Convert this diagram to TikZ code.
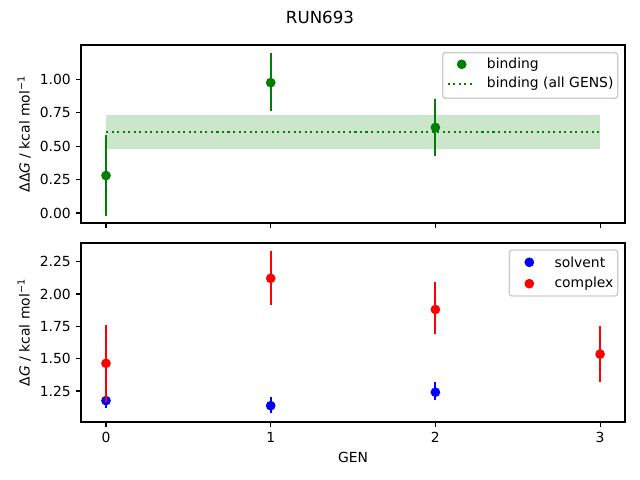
\documentclass[tikz,border=0pt]{standalone}
\usepackage{fontspec}
\setmainfont{DejaVu Sans}
\definecolor{mplgreen}{RGB}{0,128,0}
\definecolor{mplblue}{RGB}{0,0,255}
\definecolor{mplred}{RGB}{255,0,0}
\definecolor{legendgray}{RGB}{204,204,204}
\begin{document}
\begin{tikzpicture}[x=0.72bp,y=0.72bp,font=\fontsize{10bp}{12bp}\selectfont,
    frame/.style={line width=0.8bp},
    tick/.style={line width=0.8bp},
    errbar/.style={line width=1.5bp},
    dot/.style={circle,fill=#1,inner sep=0pt,minimum size=7bp},
    ticklabel/.style={inner sep=0pt},
    legendbox/.style={draw=legendgray,fill=white,fill opacity=0.8,rounded corners=2bp,line width=1bp}]
    \useasboundingbox (0,0) rectangle (640,480);
    % title
    \node (title) at (320,463) {\fontsize{12bp}{14bp}\selectfont RUN693};
    % upper axes: binding
    \fill[mplgreen,opacity=0.2] (106,331.2) rectangle (600.1,364.6);
    \draw[mplgreen,line width=1.5bp,dash pattern=on 1.5bp off 2.475bp] (106,348.3) -- (600.1,348.3);
    \begin{scope}[shift={(106,267)},x=118.58bp,y=96.26bp]
        \draw[mplgreen,errbar] (0,-0.02) -- (0,0.58);
        \draw[mplgreen,errbar] (1,0.765) -- (1,1.195);
        \draw[mplgreen,errbar] (2,0.43) -- (2,0.85);
        \node[dot=mplgreen] (bind0) at (0,0.28) {};
        \node[dot=mplgreen] (bind1) at (1,0.975) {};
        \node[dot=mplgreen] (bind2) at (2,0.64) {};
    \end{scope}
    \draw[frame] (81,257) rectangle (625,435);
    \foreach \i in {0,1,2,3}
        \draw[tick] ({106+164.7*\i},257) -- ++(0,-4.86);
    \foreach \v [count=\k] in {0.00,0.25,0.50,0.75,1.00}
        \draw[tick] (81,{267+133.7*\v}) -- ++(-4.86,0)
            node[ticklabel,anchor=east,xshift=-3.5bp] (topy\k) {\v};
    \node[rotate=90] (toplabel) at (24.3,346) {ΔΔ\textit{G} / kcal mol\textsuperscript{−1}};
    % upper legend
    \draw[legendbox] (442.7,381.7) rectangle (617.7,427.3);
    \node[dot=mplgreen] (legbind) at (461.7,415.7) {};
    \node[anchor=west,inner sep=0pt] (legbindtext) at (486.7,415.7) {binding};
    \draw[mplgreen,line width=1.5bp,dash pattern=on 1.5bp off 2.475bp] (447.7,396.3) -- (474,396.3);
    \node[anchor=west,inner sep=0pt] (legalltext) at (486.7,396.3) {binding (all GENS)};
    % lower axes: solvent and complex
    \begin{scope}[shift={(106,-72.6)},x=118.58bp,y=93.1bp]
        \draw[mplblue,errbar] (0,1.121) -- (0,1.232);
        \draw[mplblue,errbar] (1,1.077) -- (1,1.206);
        \draw[mplblue,errbar] (2,1.18) -- (2,1.317);
        \node[dot=mplblue] (solv0) at (0,1.175) {};
        \node[dot=mplblue] (solv1) at (1,1.136) {};
        \node[dot=mplblue] (solv2) at (2,1.24) {};
        \draw[mplred,errbar] (0,1.167) -- (0,1.76);
        \draw[mplred,errbar] (1,1.915) -- (1,2.333);
        \draw[mplred,errbar] (2,1.69) -- (2,2.09);
        \draw[mplred,errbar] (3,1.32) -- (3,1.756);
        \node[dot=mplred] (comp0) at (0,1.464) {};
        \node[dot=mplred] (comp1) at (1,2.121) {};
        \node[dot=mplred] (comp2) at (2,1.88) {};
        \node[dot=mplred] (comp3) at (3,1.535) {};
    \end{scope}
    \draw[frame] (81,58) rectangle (625,237);
    \foreach \i in {0,1,2,3}
        \draw[tick] ({106+164.7*\i},58) -- ++(0,-4.86)
            node[ticklabel,anchor=north,yshift=-3.5bp] (genx\i) {\i};
    \foreach \v [count=\k] in {1.25,1.50,1.75,2.00,2.25}
        \draw[tick] (81,{-72.6+129.3*\v}) -- ++(-4.86,0)
            node[ticklabel,anchor=east,xshift=-3.5bp] (boty\k) {\v};
    \node[rotate=90] (botlabel) at (24.3,147.5) {Δ\textit{G} / kcal mol\textsuperscript{−1}};
    \node (genlabel) at (353,23) {GEN};
    % lower legend
    \draw[legendbox] (509.3,184) rectangle (617.7,230);
    \node[dot=mplblue] (legsolv) at (529.3,217.7) {};
    \node[anchor=west,inner sep=0pt] (legsolvtext) at (554.3,217.7) {solvent};
    \node[dot=mplred] (legcomp) at (529.3,196.3) {};
    \node[anchor=west,inner sep=0pt] (legcomptext) at (554.3,196.3) {complex};
\end{tikzpicture}
\end{document}
